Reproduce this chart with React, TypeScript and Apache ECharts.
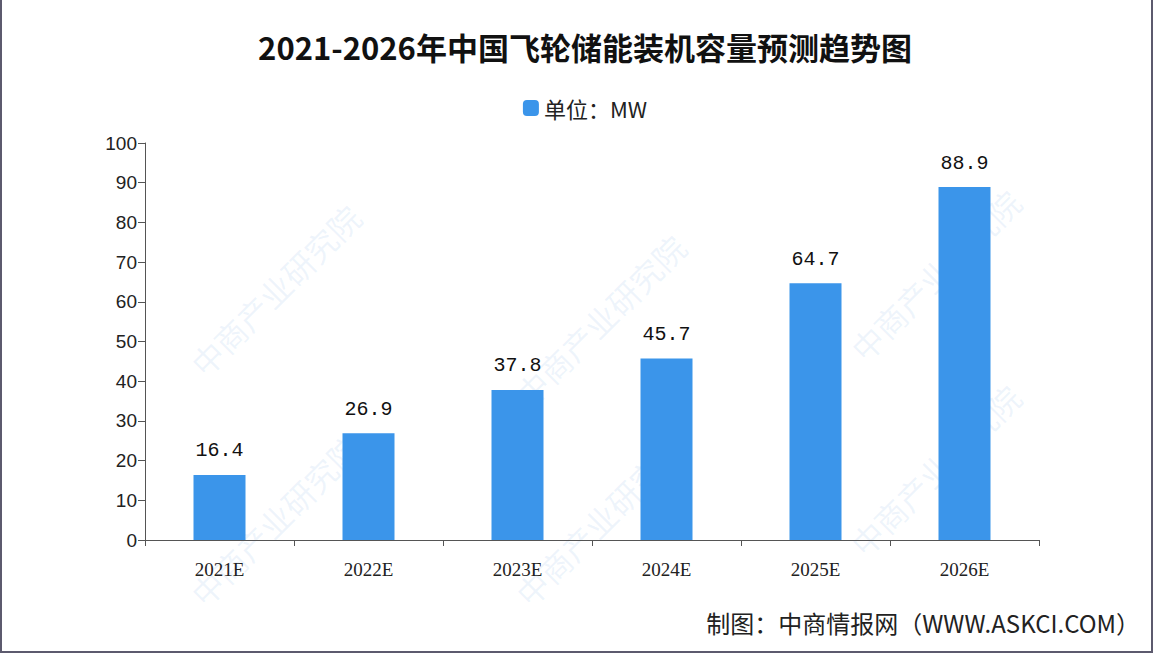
import React, { useEffect, useRef } from "react";
import * as echarts from "echarts";

const categories = ["2021E", "2022E", "2023E", "2024E", "2025E", "2026E"];
const capacityMW = [16.4, 26.9, 37.8, 45.7, 64.7, 88.9];
const yTicks = { min: 0, max: 100, interval: 10 };
const titleText = "2021-2026年中国飞轮储能装机容量预测趋势图";
const legendName = "单位：MW";
const footerText = "制图：中商情报网（WWW.ASKCI.COM）";
const watermarkText = "中商产业研究院";

export default function App() {
  const ref = useRef<HTMLDivElement>(null);
  useEffect(() => {
    document.body.style.margin = "0";
    const chart = echarts.init(ref.current!, null, { renderer: "svg" });
    const wmPositions: [number, number][] = [
      [275, 290], [600, 320], [935, 275],
      [600, 520], [935, 470], [275, 520],
    ];
    const watermarks: any[] = wmPositions.map(([x, y]) => ({
      type: "text",
      x,
      y,
      rotation: Math.PI / 4,
      z: 0,
      silent: true,
      style: {
        text: watermarkText,
        fill: "rgba(120,170,225,0.13)",
        font: "32px 'Noto Sans CJK SC'",
        align: "center",
        verticalAlign: "middle",
      },
    }));
    chart.setOption({
      animation: false,
      backgroundColor: "#ffffff",
      title: {
        text: titleText,
        left: "center",
        top: 26,
        textStyle: {
          fontFamily: "'Noto Sans CJK SC'",
          fontWeight: "bold",
          fontSize: 31,
          color: "#111",
        },
      },
      legend: {
        data: [legendName],
        top: 92,
        left: "center",
        itemWidth: 16,
        itemHeight: 16,
        itemGap: 6,
        textStyle: {
          fontFamily: "'Noto Sans CJK SC'",
          fontSize: 22,
          color: "#222",
        },
      },
      grid: { left: 145, right: 131, top: 143, bottom: 114, containLabel: false },
      xAxis: {
        type: "category",
        data: categories,
        axisLine: { lineStyle: { color: "#555", width: 1 } },
        axisTick: { show: true, length: 6, lineStyle: { color: "#555" } },
        axisLabel: {
          margin: 20,
          fontFamily: "'Liberation Serif'",
          fontSize: 19,
          color: "#222",
        },
      },
      yAxis: {
        type: "value",
        min: yTicks.min,
        max: yTicks.max,
        interval: yTicks.interval,
        axisLine: { show: true, lineStyle: { color: "#555", width: 1 } },
        axisTick: { show: true, length: 7, lineStyle: { color: "#555" } },
        splitLine: { show: false },
        axisLabel: {
          margin: 8,
          fontFamily: "Arial, 'Liberation Sans'",
          fontSize: 19,
          color: "#222",
        },
      },
      series: [
        {
          name: legendName,
          type: "bar",
          data: capacityMW,
          barWidth: 52,
          itemStyle: { color: "#3b95ea" },
          z: 3,
          label: {
            show: true,
            position: "top",
            distance: 14,
            fontFamily: "'Liberation Mono'",
            fontSize: 20,
            color: "#111",
            formatter: (p: any) => p.value.toFixed(1),
          },
        },
      ],
      graphic: [
        ...watermarks,
        {
          type: "text",
          right: 30,
          top: 610,
          z: 10,
          style: {
            text: footerText,
            font: "24px 'Noto Sans CJK SC'",
            fill: "#222",
          },
        },
        {
          type: "rect",
          z: 10,
          silent: true,
          shape: { x: 1, y: -2, width: 1151, height: 654 },
          style: { fill: "none", stroke: "#5c5a6e", lineWidth: 2 },
        },
      ],
    });
    return () => chart.dispose();
  }, []);
  return <div ref={ref} style={{ width: 1170, height: 654 }} />;
}
